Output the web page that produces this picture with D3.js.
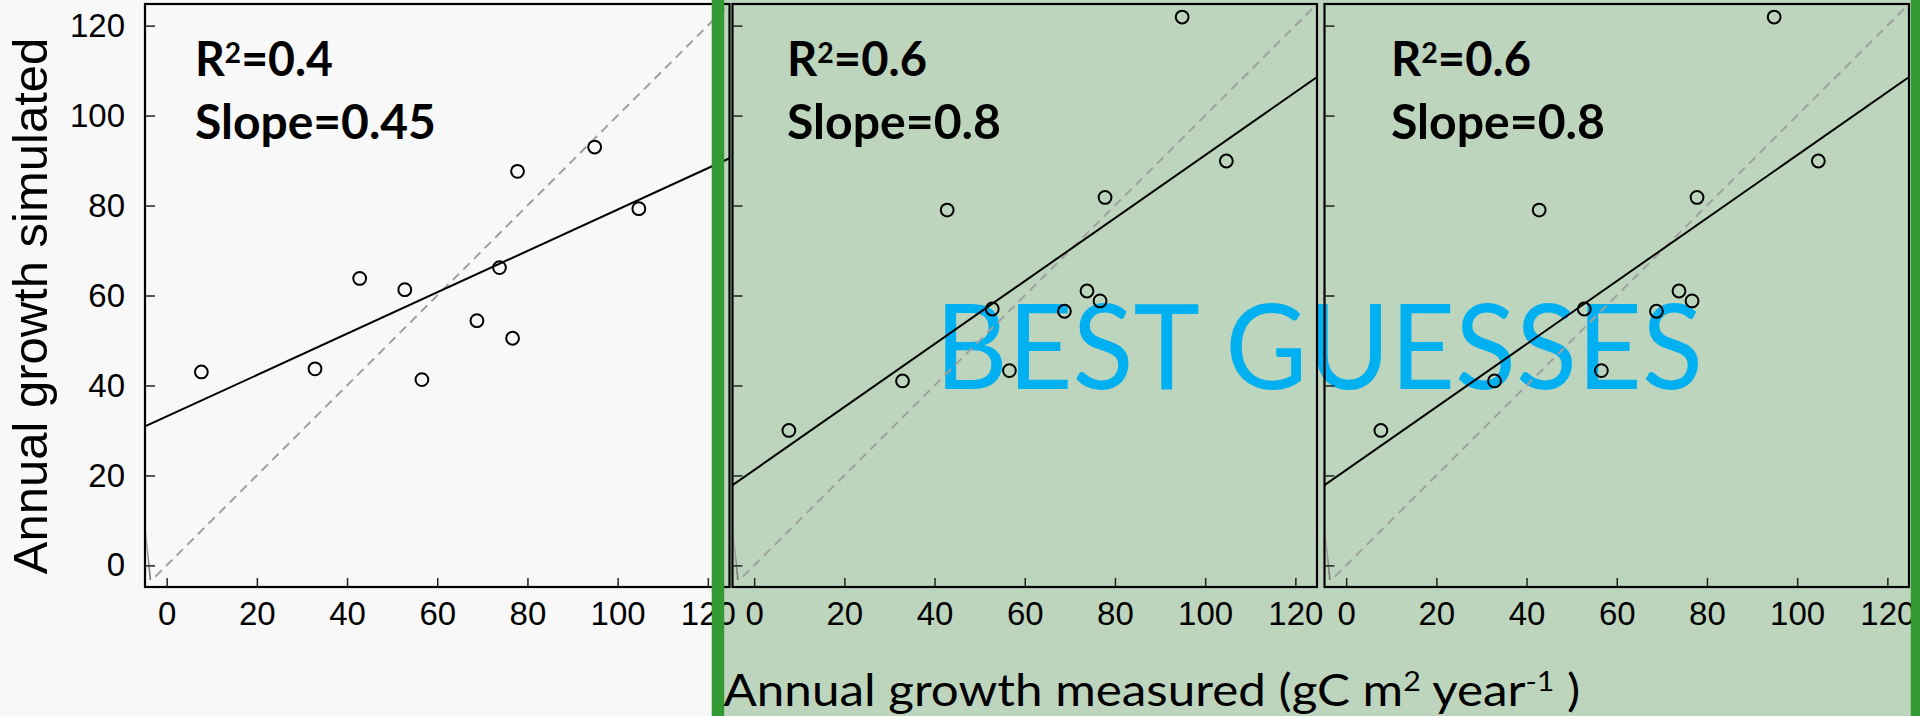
<!DOCTYPE html>
<html>
<head>
<meta charset="utf-8">
<script src="https://cdn.jsdelivr.net/npm/d3@7"></script>
<style>
  html, body { margin: 0; padding: 0; background: #f8f8f8; overflow: hidden; }
  svg { display: block; }
</style>
</head>
<body>
<div id="chart"></div>
<script>
// measured annual growth, same sites in every panel
const measured = [7.7, 32.9, 42.8, 52.8, 56.6, 68.8, 73.8, 76.7, 77.8, 94.9, 104.7];
// simulated growth with default parameters (left panel)
const simDefault = [43.0, 43.7, 63.8, 61.3, 41.3, 54.4, 66.2, 50.5, 87.6, 93.0, 79.3];
// simulated growth with best-guess parameters (middle + right panels)
const simBest = [30.0, 41.0, 79.0, 57.0, 43.3, 56.5, 61.0, 58.8, 81.8, 121.9, 89.9];

const fitIntercepts = [33.1, 21.2, 21.2];
const fitSlopes = [0.46, 0.70, 0.70];
const r2Labels = ["0.4", "0.6", "0.6"];
const slopeLabels = ["0.45", "0.8", "0.8"];
const tickValues = [0, 20, 40, 60, 80, 100, 120];
const axisDomain = [-4.8, 124.8];
const oneToOne = [[-2.5, -2.5], [124.8, 124.8]];
const stray = [[-4.8, 8.5], [-3.6, -3.2]];

const panelSeries = [simDefault, simBest, simBest];

// layout
const W = 1920, H = 716;
const TOP = 4, BOTTOM = 587;
const PANEL_LEFT = [145, 732.5, 1324.5];
const PANEL_W = 584.5;
const NOTE_LEFT = [195, 787, 1391];
const GREEN_DARK = "#339933", GREEN_LIGHT = "#bed5bd", PAPER = "#f8f8f8";
const CAL = "Lato, 'Noto Sans', sans-serif";
const ARIAL = "'Liberation Sans', Arial, sans-serif";

const svg = d3.select("#chart").append("svg")
    .attr("width", W)
    .attr("height", H);

const defs = svg.append("defs");
const grad = defs.append("linearGradient")
    .attr("id", "strayGrad").attr("x1", 0).attr("y1", 0).attr("x2", 0).attr("y2", 1);
grad.append("stop").attr("offset", "0%").attr("stop-color", "#d0d0d0");
grad.append("stop").attr("offset", "100%").attr("stop-color", "#707070");

// backgrounds
svg.append("rect").attr("x", 0).attr("y", 0).attr("width", W).attr("height", H).attr("fill", PAPER);
svg.append("rect").attr("x", 724.3).attr("y", 0).attr("width", 1910.7 - 724.3).attr("height", H).attr("fill", GREEN_LIGHT);

// squeeze a text horizontally so it fills the given width
function squeeze(sel, x, y, w) {
    const bw = sel.node().getBBox().width;
    sel.attr("transform", `translate(${x},${y}) scale(${w / bw},1)`);
}

// the big overlay label sits under the plot marks
const best = svg.append("text")
    .attr("font-family", CAL)
    .attr("font-size", 118)
    .attr("fill", "#00b0f0")
    .text("BEST GUESSES");
squeeze(best, 935, 388.5, 768);

const y = d3.scaleLinear().domain(axisDomain).range([BOTTOM, TOP]);

panelSeries.forEach((sim, i) => {
    const left = PANEL_LEFT[i];
    const x = d3.scaleLinear().domain(axisDomain).range([left, left + PANEL_W]);

    defs.append("clipPath").attr("id", "clip" + i)
        .append("rect")
        .attr("x", left).attr("y", TOP)
        .attr("width", PANEL_W).attr("height", BOTTOM - TOP);

    const g = svg.append("g");
    const plot = g.append("g").attr("clip-path", `url(#clip${i})`);

    // stray line near the origin
    plot.append("line")
        .attr("x1", x(stray[0][0])).attr("y1", y(stray[0][1]))
        .attr("x2", x(stray[1][0])).attr("y2", y(stray[1][1]))
        .attr("stroke", "url(#strayGrad)")
        .attr("stroke-width", 1.6);

    // 1:1 line
    plot.append("line")
        .attr("x1", x(oneToOne[0][0])).attr("y1", y(oneToOne[0][1]))
        .attr("x2", x(oneToOne[1][0])).attr("y2", y(oneToOne[1][1]))
        .attr("stroke", "#a0a0a0")
        .attr("stroke-width", 2)
        .attr("stroke-dasharray", "9,6");

    // regression line
    plot.append("line")
        .attr("x1", x(axisDomain[0])).attr("y1", y(fitIntercepts[i] + fitSlopes[i] * axisDomain[0]))
        .attr("x2", x(axisDomain[1])).attr("y2", y(fitIntercepts[i] + fitSlopes[i] * axisDomain[1]))
        .attr("stroke", "#000")
        .attr("stroke-width", 2);

    plot.selectAll("circle")
        .data(measured)
        .enter().append("circle")
        .attr("cx", d => x(d))
        .attr("cy", (d, k) => y(sim[k]))
        .attr("r", 6.4)
        .attr("fill", "none")
        .attr("stroke", "#000")
        .attr("stroke-width", 2);

    // frame
    g.append("rect")
        .attr("x", left).attr("y", TOP)
        .attr("width", PANEL_W).attr("height", BOTTOM - TOP)
        .attr("fill", "none")
        .attr("stroke", "#000")
        .attr("stroke-width", 2.2);

    // ticks point inward
    const xAxis = g.append("g")
        .attr("class", "xaxis")
        .attr("transform", `translate(0,${BOTTOM})`)
        .call(d3.axisBottom(x).tickValues(tickValues).tickSizeInner(-9).tickSizeOuter(0).tickPadding(15));
    xAxis.select(".domain").remove();
    xAxis.selectAll("line").attr("stroke", "#222").attr("stroke-width", 1.5);
    xAxis.selectAll("text").attr("font-family", ARIAL).attr("font-size", 33).attr("fill", "#000");

    const yAxis = g.append("g")
        .attr("transform", `translate(${left},0)`)
        .call(d3.axisLeft(y).tickValues(tickValues).tickSizeInner(-10).tickSizeOuter(0).tickPadding(20));
    yAxis.select(".domain").remove();
    yAxis.selectAll("line").attr("stroke", "#222").attr("stroke-width", 1.5);
    yAxis.selectAll("text").attr("font-family", ARIAL).attr("font-size", 33).attr("fill", "#000");
    if (i > 0) yAxis.selectAll("text").remove();

    // R² and slope notes
    const r2 = g.append("text")
        .attr("font-family", CAL).attr("font-size", 48).attr("font-weight", 700).attr("fill", "#000");
    r2.append("tspan").text("R");
    r2.append("tspan").attr("font-size", 29).attr("dy", -13.5).text("2");
    r2.append("tspan").attr("dy", 13.5).text("=" + r2Labels[i]);
    squeeze(r2, NOTE_LEFT[i], 76, i === 0 ? 138 : 140);

    const sl = g.append("text")
        .attr("font-family", CAL).attr("font-size", 48).attr("font-weight", 700).attr("fill", "#000")
        .text("Slope=" + slopeLabels[i]);
    squeeze(sl, NOTE_LEFT[i], 138.5, i === 0 ? 241 : 214);
});

// dark green borders of the best-guess block
svg.append("rect").attr("x", 711.7).attr("y", 0).attr("width", 12.6).attr("height", H).attr("fill", GREEN_DARK);
svg.append("rect").attr("x", 1910.7).attr("y", 0).attr("width", W - 1910.7).attr("height", H).attr("fill", GREEN_DARK);

// x labels sit on top of the green border
svg.selectAll(".xaxis").raise();

// axis titles
svg.append("text")
    .attr("transform", "translate(47,306) rotate(-90)")
    .attr("text-anchor", "middle")
    .attr("font-family", ARIAL)
    .attr("font-size", 49)
    .attr("fill", "#000")
    .text("Annual growth simulated");

const xt = svg.append("text")
    .attr("font-family", CAL).attr("font-size", 44).attr("fill", "#000");
xt.append("tspan").text("Annual growth measured (gC m");
xt.append("tspan").attr("font-size", 27).attr("dy", -15).text("2");
xt.append("tspan").attr("dy", 15).text(" year");
xt.append("tspan").attr("font-size", 27).attr("dy", -15).text("-1");
xt.append("tspan").attr("dy", 15).text(" )");
squeeze(xt, 723.5, 706, 857);
</script>
</body>
</html>
